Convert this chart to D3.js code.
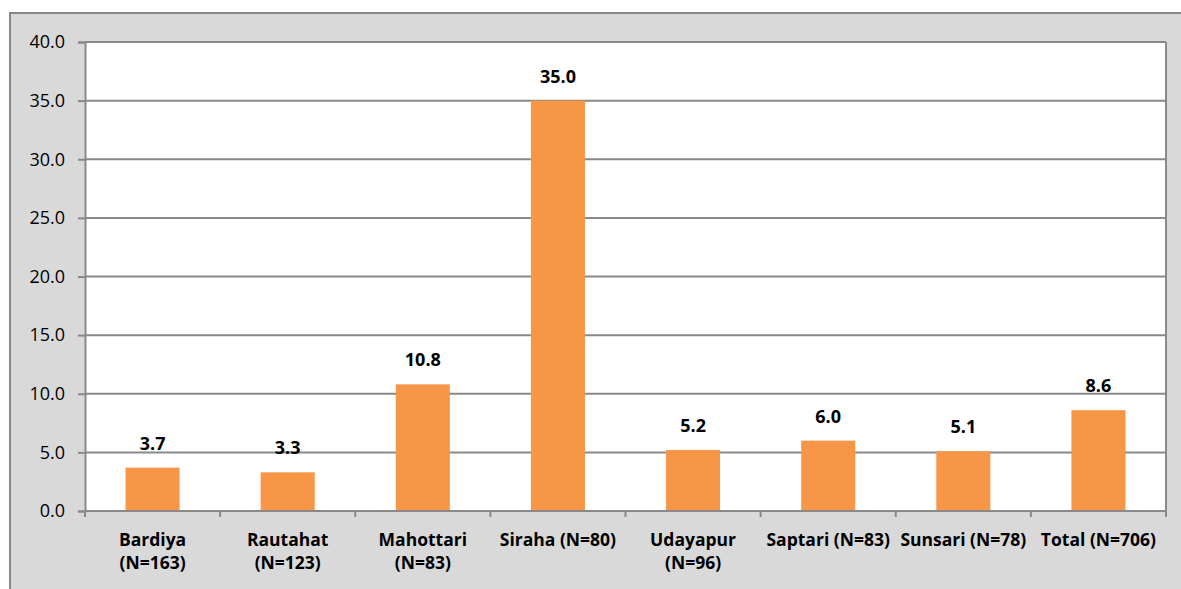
<!DOCTYPE html>
<html>
<head>
<meta charset="utf-8">
<script src="https://cdn.jsdelivr.net/npm/d3@7"></script>
<style>
  body { margin: 0; background: #fff; }
  svg { display: block; }
</style>
</head>
<body>
<div id="chart"></div>
<script>
// Data
var categories = ["Bardiya\n(N=163)", "Rautahat\n(N=123)", "Mahottari\n(N=83)", "Siraha (N=80)",
                  "Udayapur\n(N=96)", "Saptari (N=83)", "Sunsari (N=78)", "Total (N=706)"];
var values = [3.7, 3.3, 10.8, 35.0, 5.2, 6.0, 5.1, 8.6];
var yTicks = [0, 5, 10, 15, 20, 25, 30, 35, 40];

var drawChart = function() {
    // Settings
    var width = 1181, height = 589;
    var fontFamily = "'Open Sans', 'Noto Sans', sans-serif";
    var gridColor = "#898989";
    var barColor = "#f79646";
    var panelColor = "#d9d9d9";
    var plot = { left: 85, right: 1166, top: 42, bottom: 511 };

    var svg = d3.select("#chart").append("svg")
        .attr("width", width)
        .attr("height", height);

    // grey panel with border
    svg.append("rect")
        .attr("x", 10).attr("y", 13)
        .attr("width", width + 20).attr("height", height + 20)
        .attr("fill", panelColor)
        .attr("stroke", gridColor)
        .attr("stroke-width", 2);

    // plot area
    svg.append("rect")
        .attr("x", plot.left).attr("y", plot.top)
        .attr("width", plot.right - plot.left).attr("height", plot.bottom - plot.top)
        .attr("fill", "#fff");

    var x = d3.scaleBand()
        .domain(categories)
        .range([plot.left, plot.right])
        .paddingInner(0.6)
        .paddingOuter(0.3);

    var y = d3.scaleLinear()
        .domain([0, 40])
        .range([plot.bottom, plot.top]);

    // gridlines + y axis
    var yAxis = svg.append("g")
        .attr("transform", "translate(" + plot.left + ",0)")
        .call(d3.axisLeft(y).tickValues(yTicks).tickSize(7).tickPadding(13)
            .tickFormat(d3.format(".1f")));
    yAxis.select(".domain").attr("stroke", gridColor).attr("stroke-width", 2);
    yAxis.selectAll(".tick line").attr("stroke", gridColor).attr("stroke-width", 2);
    yAxis.selectAll(".tick text")
        .attr("font-family", fontFamily)
        .attr("font-size", 18)
        .attr("fill", "#000");

    svg.append("g")
        .selectAll("line")
        .data(yTicks.filter(function(d) { return d > 0; }))
        .enter().append("line")
        .attr("x1", plot.left).attr("x2", plot.right)
        .attr("y1", function(d) { return y(d); })
        .attr("y2", function(d) { return y(d); })
        .attr("stroke", gridColor)
        .attr("stroke-width", 2);

    // right border
    svg.append("line")
        .attr("x1", plot.right).attr("x2", plot.right)
        .attr("y1", plot.top).attr("y2", plot.bottom)
        .attr("stroke", gridColor).attr("stroke-width", 2);

    // bars
    svg.append("g")
        .selectAll("rect")
        .data(values)
        .enter().append("rect")
        .attr("x", function(d, i) { return x(categories[i]); })
        .attr("y", function(d) { return y(d); })
        .attr("width", x.bandwidth())
        .attr("height", function(d) { return y(0) - y(d); })
        .attr("fill", barColor);

    // value labels
    svg.append("g")
        .selectAll("text")
        .data(values)
        .enter().append("text")
        .attr("x", function(d, i) { return x(categories[i]) + x.bandwidth() / 2; })
        .attr("y", function(d) { return y(d) - 18; })
        .attr("text-anchor", "middle")
        .attr("font-family", fontFamily)
        .attr("font-size", 18)
        .attr("font-weight", "bold")
        .attr("fill", "#000")
        .text(function(d) { return d.toFixed(1); });

    // x axis line and ticks at category boundaries
    var step = x.step();
    var bounds = d3.range(categories.length + 1).map(function(i) { return plot.left + i * step; });
    svg.append("line")
        .attr("x1", plot.left).attr("x2", plot.right)
        .attr("y1", plot.bottom).attr("y2", plot.bottom)
        .attr("stroke", gridColor).attr("stroke-width", 2);
    svg.append("g")
        .selectAll("line")
        .data(bounds)
        .enter().append("line")
        .attr("x1", function(d) { return d; }).attr("x2", function(d) { return d; })
        .attr("y1", plot.bottom).attr("y2", plot.bottom + 6)
        .attr("stroke", gridColor).attr("stroke-width", 2);

    // category labels
    var labels = svg.append("g")
        .selectAll("text")
        .data(categories)
        .enter().append("text")
        .attr("x", function(d) { return x(d) + x.bandwidth() / 2; })
        .attr("y", 546)
        .attr("text-anchor", "middle")
        .attr("font-family", fontFamily)
        .attr("font-size", 17.5)
        .attr("font-weight", "bold")
        .attr("fill", "#000");
    labels.each(function(d) {
        var el = d3.select(this);
        d.split("\n").forEach(function(line, i) {
            el.append("tspan")
                .attr("x", el.attr("x"))
                .attr("dy", i === 0 ? 0 : 23)
                .text(line);
        });
    });
};

window.addEventListener("load", drawChart);
</script>
</body>
</html>
